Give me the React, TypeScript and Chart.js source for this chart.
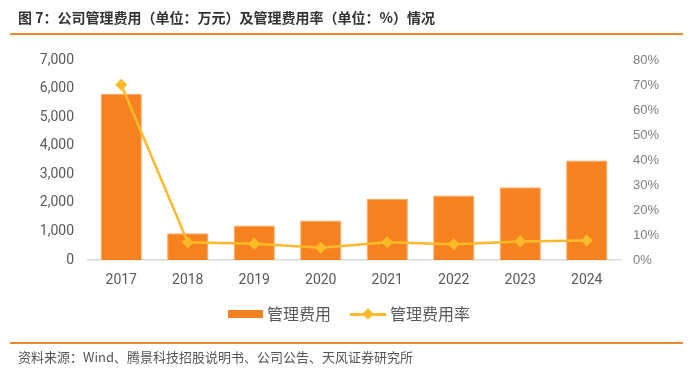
import React, { useEffect, useRef } from "react";
import { Chart, registerables } from "chart.js";

Chart.register(...registerables);

const years = ["2017", "2018", "2019", "2020", "2021", "2022", "2023", "2024"];
const expense = [5817, 938, 1207, 1382, 2142, 2257, 2548, 3482];
const expenseRate = [0.701, 0.071, 0.065, 0.049, 0.071, 0.063, 0.074, 0.078];
const leftTicks = [0, 1000, 2000, 3000, 4000, 5000, 6000, 7000];
const rightTicks = [0, 0.1, 0.2, 0.3, 0.4, 0.5, 0.6, 0.7, 0.8];

const titleText = "图 7：公司管理费用（单位：万元）及管理费用率（单位：%）情况";
const sourceText = "资料来源：Wind、腾景科技招股说明书、公司公告、天风证券研究所";
const barLabel = "管理费用";
const lineLabel = "管理费用率";

const BAR_COLOR = "#F5821F";
const LINE_COLOR = "#FBBA29";
const FONT = "Roboto, 'Noto Sans CJK SC', sans-serif";
const CJK = "'Noto Sans CJK SC', 'Noto Sans', sans-serif";

export default function App() {
  const ref = useRef<HTMLCanvasElement | null>(null);

  useEffect(() => {
    document.body.style.margin = "0";
    const ctx = ref.current;
    if (!ctx) return;
    const chart = new Chart(ctx, {
      type: "bar",
      data: {
        labels: years,
        datasets: [
          {
            type: "line",
            label: lineLabel,
            data: expenseRate,
            yAxisID: "y1",
            borderColor: LINE_COLOR,
            backgroundColor: LINE_COLOR,
            borderWidth: 2.5,
            pointStyle: "rectRot",
            pointRadius: 6,
            pointBorderWidth: 0,
            pointBackgroundColor: LINE_COLOR,
            tension: 0,
            order: 0,
          } as any,
          {
            type: "bar",
            label: barLabel,
            data: expense,
            yAxisID: "y",
            backgroundColor: BAR_COLOR,
            borderColor: "#F8A563",
            borderWidth: 1,
            categoryPercentage: 1,
            barPercentage: 0.62,
            order: 1,
          } as any,
        ],
      },
      options: {
        animation: false,
        responsive: false,
        maintainAspectRatio: false,
        layout: { padding: { top: 60, bottom: 73, left: 0, right: 0 } },
        plugins: {
          legend: { display: false },
          tooltip: { enabled: false },
        },
        scales: {
          x: {
            grid: { display: false, drawTicks: false },
            border: { display: true, color: "#D9D9D9", width: 1.5 },
            ticks: { color: "#595959", font: { family: FONT, size: 14 }, padding: 12 },
            afterFit: (s: any) => { s.height = 40; },
          },
          y: {
            position: "left",
            min: 0,
            max: 7000,
            grid: { display: false, drawTicks: false },
            border: { display: false },
            afterBuildTicks: (s: any) => { s.ticks = leftTicks.map((v) => ({ value: v })); },
            ticks: {
              color: "#595959",
              font: { family: FONT, size: 14 },
              padding: 14,
              callback: (v: any) => Number(v).toLocaleString("en-US"),
            },
            afterFit: (s: any) => { s.width = 88; },
          },
          y1: {
            position: "right",
            min: 0,
            max: 0.8,
            grid: { display: false, drawTicks: false },
            border: { display: false },
            afterBuildTicks: (s: any) => { s.ticks = rightTicks.map((v) => ({ value: v })); },
            ticks: {
              color: "#7F7F7F",
              font: { family: "'Liberation Sans Narrow', 'Liberation Sans', sans-serif", size: 13 },
              padding: 13,
              callback: (v: any) => Math.round(Number(v) * 100) + "%",
            },
            afterFit: (s: any) => { s.width = 74; },
          },
        },
      },
    });
    return () => chart.destroy();
  }, []);

  return (
    <div style={{ position: "relative", width: 694, height: 373, background: "#fff", overflow: "hidden" }}>
      <canvas ref={ref} width={694} height={373} style={{ position: "absolute", left: 0, top: 0, width: 694, height: 373 }} />
      <div style={{ position: "absolute", left: 18, top: 8, fontFamily: CJK, fontWeight: 700, fontSize: 14, color: "#333", whiteSpace: "nowrap", lineHeight: "18px" }}>
        {titleText}
      </div>
      <div style={{ position: "absolute", left: 10, top: 33, width: 673, height: 2, background: "#EE8A2C" }} />
      <div style={{ position: "absolute", left: 10, top: 342, width: 673, height: 2, background: "#EE8A2C" }} />
      <div style={{ position: "absolute", left: 18, top: 348, fontFamily: CJK, fontSize: 13, color: "#555", whiteSpace: "nowrap", lineHeight: "17px" }}>
        {sourceText}
      </div>
      {/* legend */}
      <div style={{ position: "absolute", left: 228, top: 310, width: 35, height: 8, background: BAR_COLOR }} />
      <div style={{ position: "absolute", left: 267, top: 303, fontFamily: CJK, fontSize: 16, color: "#595959", whiteSpace: "nowrap", lineHeight: "20px" }}>
        {barLabel}
      </div>
      <div style={{ position: "absolute", left: 350, top: 313, width: 36, height: 2.5, background: LINE_COLOR }} />
      <div style={{ position: "absolute", left: 363.5, top: 309.5, width: 8, height: 8, background: LINE_COLOR, transform: "rotate(45deg)" }} />
      <div style={{ position: "absolute", left: 390, top: 303, fontFamily: CJK, fontSize: 16, color: "#595959", whiteSpace: "nowrap", lineHeight: "20px" }}>
        {lineLabel}
      </div>
    </div>
  );
}
